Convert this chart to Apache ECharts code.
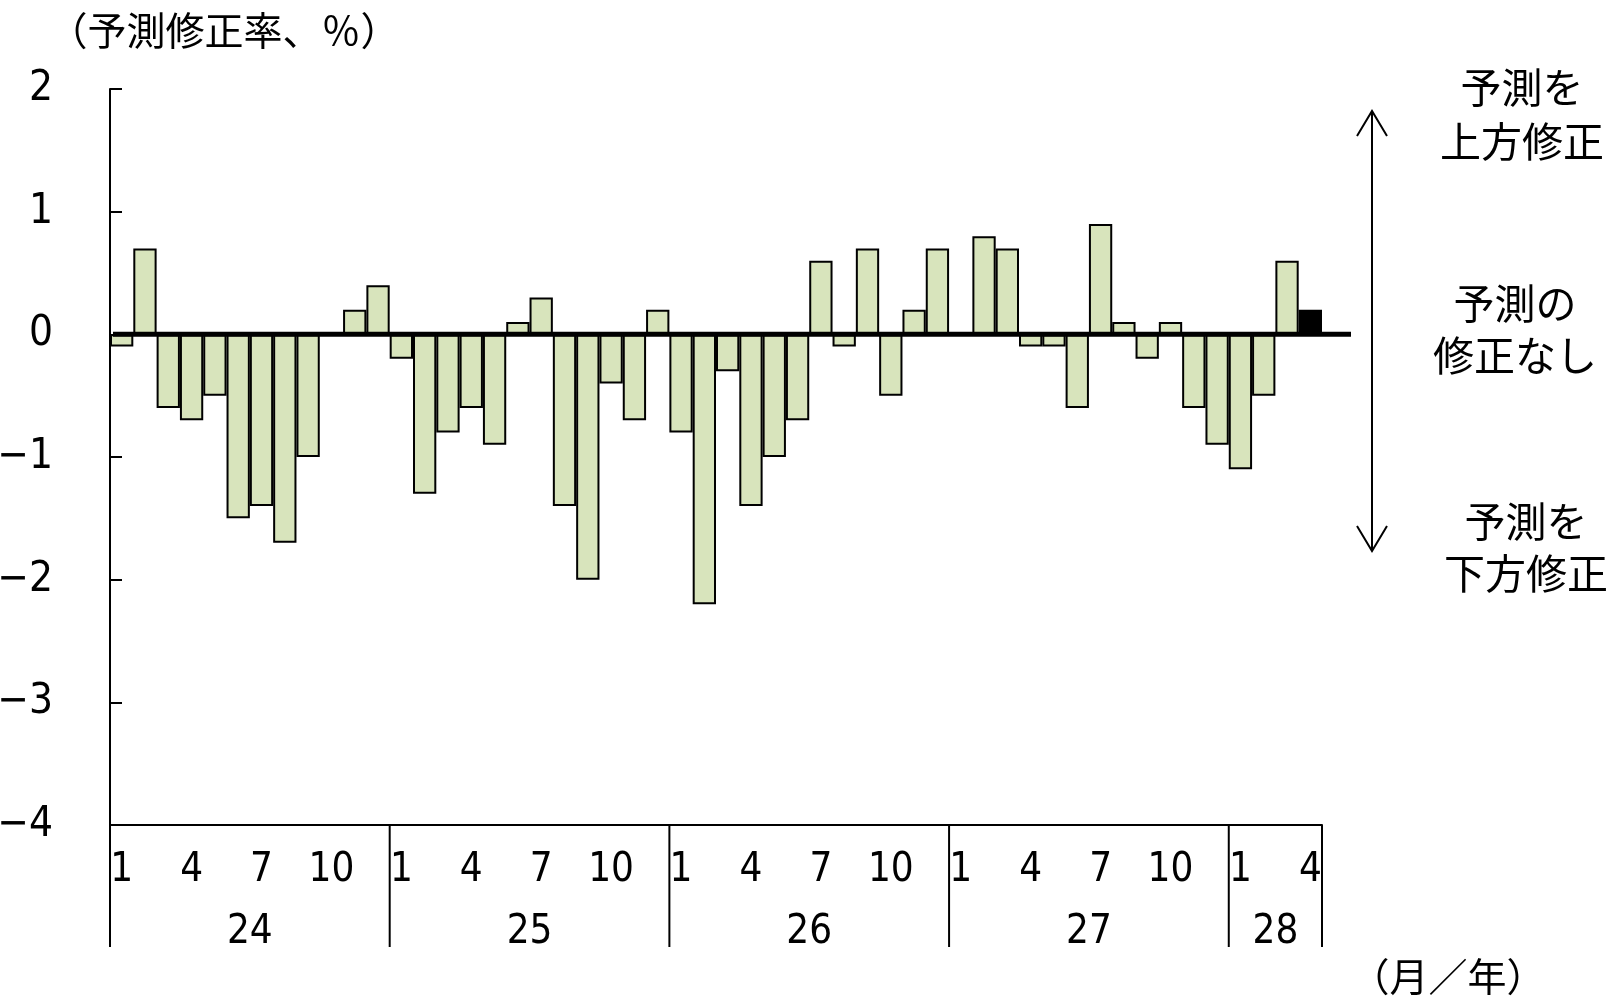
<!DOCTYPE html>
<html>
<head>
<meta charset="utf-8">
<script src="https://cdn.jsdelivr.net/npm/echarts@6/dist/echarts.min.js"></script>
<style>
html,body{margin:0;padding:0;background:#fff;}
#chart{width:1613px;height:1001px;}
</style>
</head>
<body>
<div id="chart"></div>
<script>
// ---- data ----
const years = ['24', '25', '26', '27', '28'];
const monthsPerYear = [12, 12, 12, 12, 4];
const shownMonths = [1, 4, 7, 10];
const values = [
  -0.1, 0.7, -0.6, -0.7, -0.5, -1.5, -1.4, -1.7, -1.0, 0, 0.2, 0.4,
  -0.2, -1.3, -0.8, -0.6, -0.9, 0.1, 0.3, -1.4, -2.0, -0.4, -0.7, 0.2,
  -0.8, -2.2, -0.3, -1.4, -1.0, -0.7, 0.6, -0.1, 0.7, -0.5, 0.2, 0.7,
  0, 0.8, 0.7, -0.1, -0.1, -0.6, 0.9, 0.1, -0.2, 0.1, -0.6, -0.9,
  -1.1, -0.5, 0.6, 0.2
];
const highlightIndex = 51; // latest month drawn in black
const yTicks = [-4, -3, -2, -1, 0, 1, 2];
const titleText = '（予測修正率、％）';
const unitText = '（月／年）';
const sideLabels = [
  ['予測を', '上方修正'],
  ['予測の', '修正なし'],
  ['予測を', '下方修正']
];

// ---- build categories ----
const categories = [];
const monthOf = [];
years.forEach((y, yi) => {
  for (let m = 1; m <= monthsPerYear[yi]; m++) {
    categories.push(y + '/' + m);
    monthOf.push(m);
  }
});

const digitFont = '"Liberation Sans Narrow", "DejaVu Sans Condensed", "Arial Narrow", sans-serif';
const jpFont = '"Noto Sans CJK JP", "Noto Sans CJK SC", sans-serif';

const chart = echarts.init(document.getElementById('chart'), null, {renderer: 'canvas'});

const barData = values.map((v, i) => i === highlightIndex
  ? {value: v, itemStyle: {color: '#000000', borderColor: '#000000'}}
  : v);

chart.setOption({
  animation: false,
  backgroundColor: '#ffffff',
  grid: {left: 110, right: 291, top: 89, bottom: 176, containLabel: false, outerBoundsMode: 'none'},
  xAxis: {
    type: 'category',
    data: categories,
    boundaryGap: true,
    axisLine: {onZero: false, lineStyle: {color: '#000', width: 2}},
    axisTick: {show: false},
    axisLabel: {
      interval: (idx) => shownMonths.indexOf(monthOf[idx]) >= 0,
      formatter: (val) => val.split('/')[1],
      color: '#000',
      fontFamily: digitFont,
      fontSize: 40,
      lineHeight: 40,
      margin: 26
    },
    splitLine: {show: false}
  },
  yAxis: {
    type: 'value',
    min: yTicks[0],
    max: yTicks[yTicks.length - 1],
    interval: 1,
    axisLine: {show: true, lineStyle: {color: '#000', width: 2}},
    axisTick: {show: true, inside: true, length: 12, lineStyle: {color: '#000', width: 2}},
    axisLabel: {
      color: '#000',
      fontFamily: digitFont,
      fontSize: 42,
      margin: 57,
      formatter: (v) => (v < 0 ? '\u2212' + Math.abs(v) : String(v))
    },
    splitLine: {show: false}
  },
  series: [{
    type: 'bar',
    data: barData,
    barCategoryGap: '0%',
    barGap: '0%',
    itemStyle: {color: '#D8E4BC', borderColor: '#000000', borderWidth: 2},
    z: 2
  }]
});

// ---- overlays computed from the axes ----
function px(idx, v) {
  return chart.convertToPixel({xAxisIndex: 0, yAxisIndex: 0}, [idx, v]);
}
const p0 = px(0, 0);
const p1 = px(1, 0);
const band = p1[0] - p0[0];
const yZero = p0[1];
const yBottom = px(0, yTicks[0])[1];
const xStart = p0[0] - band / 2;
const xEnd = px(categories.length - 1, 0)[0] + band / 2;

const graphics = [];
// zero line (extends slightly past the plot)
graphics.push({
  type: 'line', z: 100,
  shape: {x1: xStart + 3, y1: yZero, x2: xEnd + 29, y2: yZero},
  style: {stroke: '#000', lineWidth: 5}
});
// year separators and year labels
let start = 0;
years.forEach((y, yi) => {
  const n = monthsPerYear[yi];
  const left = px(start, 0)[0] - band / 2;
  const right = px(start + n - 1, 0)[0] + band / 2;
  graphics.push({
    type: 'line', z: 50,
    shape: {x1: left, y1: yBottom, x2: left, y2: yBottom + 122},
    style: {stroke: '#000', lineWidth: 2}
  });
  if (yi === years.length - 1) {
    graphics.push({
      type: 'line', z: 50,
      shape: {x1: right, y1: yBottom, x2: right, y2: yBottom + 122},
      style: {stroke: '#000', lineWidth: 2}
    });
  }
  graphics.push({
    type: 'text', z: 50,
    x: (left + right) / 2, y: yBottom + 108,
    style: {text: y, font: '40px ' + digitFont, fill: '#000', align: 'center', verticalAlign: 'middle'}
  });
  start += n;
});
// title and unit
graphics.push({
  type: 'text', x: 224, y: 30,
  style: {text: titleText, font: '39px ' + jpFont, fill: '#000', align: 'center', verticalAlign: 'middle'}
});
graphics.push({
  type: 'text', x: 1448, y: 976,
  style: {text: unitText, font: '39px ' + jpFont, fill: '#000', align: 'center', verticalAlign: 'middle'}
});
// double arrow
const ax = 1372, ayTop = 111, ayBot = 551;
graphics.push({type: 'line', shape: {x1: ax, y1: ayTop, x2: ax, y2: ayBot}, style: {stroke: '#000', lineWidth: 2}});
graphics.push({type: 'polyline', shape: {points: [[ax - 15, ayTop + 25], [ax, ayTop], [ax + 15, ayTop + 25]]}, style: {stroke: '#000', lineWidth: 2, fill: null}});
graphics.push({type: 'polyline', shape: {points: [[ax - 15, ayBot - 25], [ax, ayBot], [ax + 15, ayBot - 25]]}, style: {stroke: '#000', lineWidth: 2, fill: null}});
// side labels
const sidePos = [[1522, 87, 141], [1515, 303, 355], [1526, 521, 573]];
sideLabels.forEach((pair, i) => {
  const [cx, y1, y2] = sidePos[i];
  graphics.push({type: 'text', x: cx, y: y1, style: {text: pair[0], font: '41px ' + jpFont, fill: '#000', align: 'center', verticalAlign: 'middle'}});
  graphics.push({type: 'text', x: cx, y: y2, style: {text: pair[1], font: '41px ' + jpFont, fill: '#000', align: 'center', verticalAlign: 'middle'}});
});

chart.setOption({graphic: graphics});
</script>
</body>
</html>
